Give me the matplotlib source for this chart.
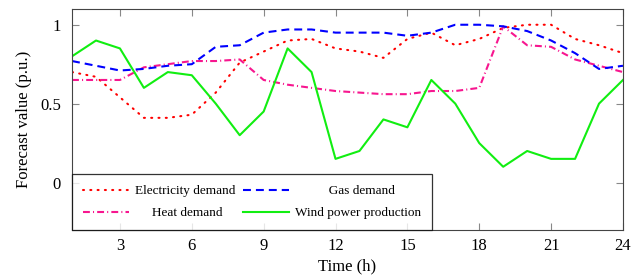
import matplotlib
matplotlib.use('Agg')
import matplotlib.pyplot as plt

# forecast data, hours 1..24
hours = list(range(1, 25))
electricity = [0.70, 0.67, 0.54, 0.41, 0.41, 0.43, 0.57, 0.76, 0.83, 0.90, 0.91, 0.85,
               0.83, 0.79, 0.91, 0.95, 0.87, 0.91, 0.98, 1.00, 1.00, 0.91, 0.87, 0.82]
gas = [0.77, 0.74, 0.71, 0.72, 0.74, 0.75, 0.86, 0.87, 0.95, 0.97, 0.97, 0.95,
       0.95, 0.95, 0.93, 0.95, 1.00, 1.00, 0.99, 0.96, 0.90, 0.82, 0.72, 0.74]
heat = [0.65, 0.65, 0.65, 0.73, 0.75, 0.77, 0.77, 0.78, 0.65, 0.62, 0.60, 0.58,
        0.57, 0.56, 0.56, 0.58, 0.58, 0.60, 0.99, 0.87, 0.86, 0.78, 0.74, 0.70]
wind = [0.80, 0.90, 0.85, 0.60, 0.70, 0.68, 0.50, 0.30, 0.45, 0.85, 0.70, 0.15,
        0.20, 0.40, 0.35, 0.65, 0.50, 0.25, 0.10, 0.20, 0.15, 0.15, 0.50, 0.65]

x_ticks = [3, 6, 9, 12, 15, 18, 21, 24]
y_ticks = [0, 0.5, 1]
y_tick_labels = ['0', '0.5', '1']

plt.rcParams['font.family'] = ['Liberation Serif', 'DejaVu Serif']

fig = plt.figure(figsize=(6.34, 2.8), dpi=100)
ax = fig.add_axes([0.1136, 0.179, 0.869, 0.789])

lw = 1.5
# leading spaces roughly centre the shorter labels in their legend column
ax.plot(hours, electricity, color='red', lw=lw, linestyle=(0, (0.5, 3)),
        dash_capstyle='round', label='Electricity demand')
ax.plot(hours, heat, color='#f7168f', lw=lw, linestyle=(0, (3.3, 1.5, 0.5, 1.5)),
        label='\u00a0' * 5 + 'Heat demand')
ax.plot(hours, gas, color='blue', lw=lw, linestyle=(0, (3.8, 2.4)),
        label='\u00a0' * 10 + 'Gas demand')
ax.plot(hours, wind, color='#11ee11', lw=lw, label='Wind power production')

ax.set_xlim(1, 24)
ax.set_ylim(-0.3, 1.1)
ax.set_xticks(x_ticks)
ax.set_yticks(y_ticks)
ax.set_yticklabels(y_tick_labels)
ax.tick_params(direction='in', top=True, right=True, length=5,
               color='#888888', labelsize=12)
ax.tick_params(axis='x', pad=6)
ax.tick_params(axis='y', pad=8)

for s in ax.spines.values():
    s.set_color('#444444')
    s.set_linewidth(0.8)

ax.set_xlabel('Time (h)', fontsize=12, labelpad=3)
ax.set_ylabel('Forecast value (p.u.)', fontsize=12, labelpad=6)

leg = ax.legend(loc='lower left', ncol=2, fontsize=9.5, frameon=True, fancybox=False,
                borderaxespad=0, handlelength=3.5, columnspacing=0.6,
                handletextpad=0.45, borderpad=0.8, labelspacing=0.75)
leg.get_frame().set_edgecolor('black')
leg.get_frame().set_linewidth(0.9)

fig.savefig('out.png', dpi=100)
